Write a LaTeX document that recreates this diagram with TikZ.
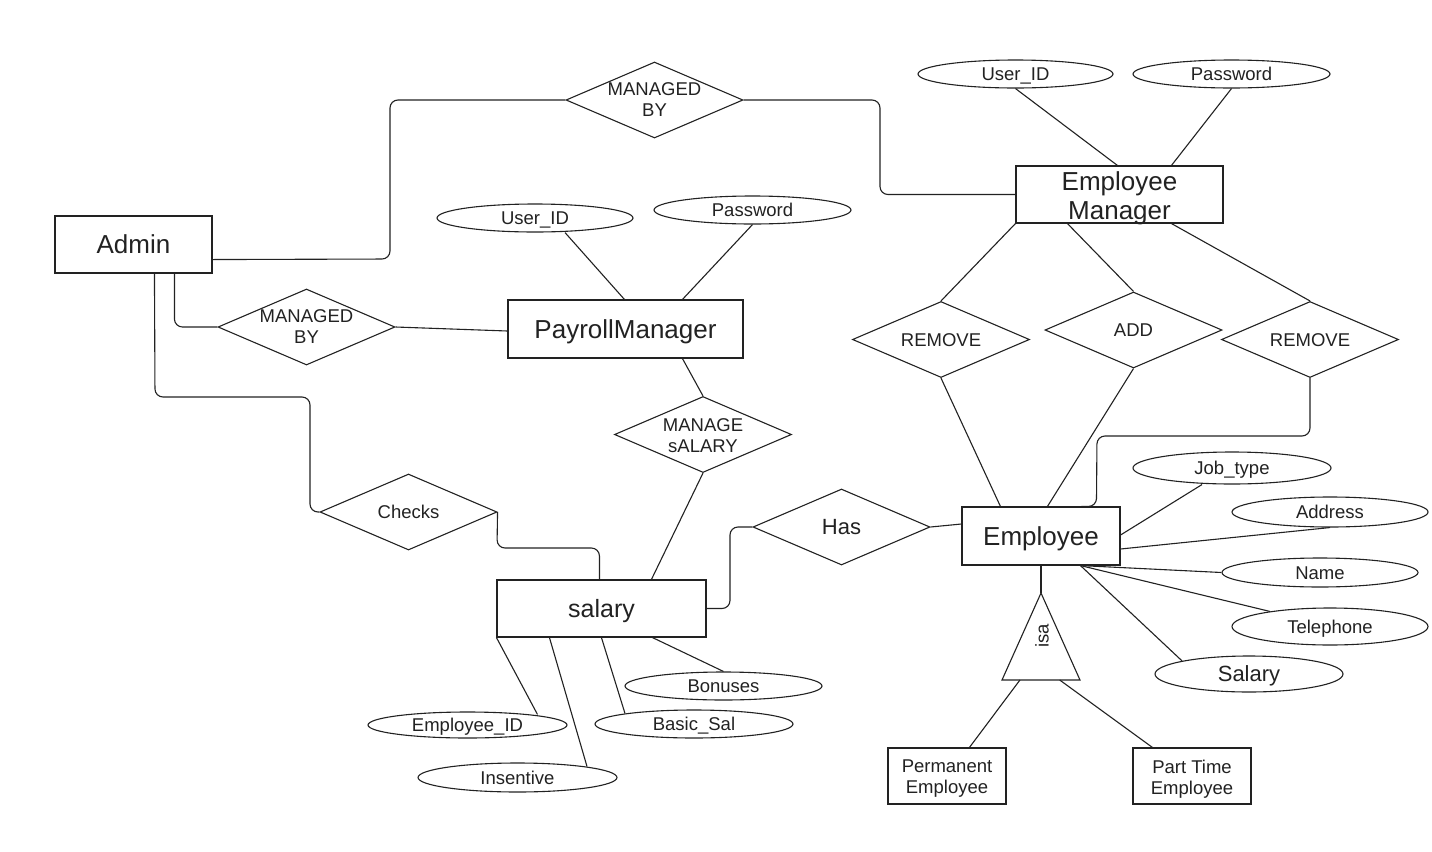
\documentclass[tikz,border=0pt]{standalone}
\usepackage{fontspec}
\setmainfont{Liberation Sans}
\usetikzlibrary{shapes.geometric,calc}
\definecolor{ink}{HTML}{222222}
\begin{document}
\begin{tikzpicture}[x=0.5pt,y=-0.5pt,line width=0.55pt,draw=ink,text=ink,
  ent/.style={draw=ink,rectangle,inner sep=0pt,align=center,font=\fontsize{13}{14.5}\selectfont,text height=9.3pt,text depth=0pt},
  box/.style={draw=ink,rectangle,inner sep=0pt},
  rel/.style={draw=ink,diamond,inner sep=0pt,minimum width=88.5pt,minimum height=38pt},
  attr/.style={draw=ink,ellipse,inner sep=0pt,minimum height=14pt,font=\fontsize{9.25}{10.5}\selectfont,text height=6.6pt,text depth=0pt},
  lbl/.style={font=\fontsize{9.25}{10.5}\selectfont,text height=6.6pt,text depth=0pt,text=ink},
  lbltwo/.style={font=\fontsize{9.25}{10.5}\selectfont,align=center,text=ink},
  bigtwo/.style={font=\fontsize{13}{14.5}\selectfont,align=center,text=ink},
  conn/.style={draw=ink,rounded corners=4pt}]
\useasboundingbox (0,0) rectangle (1432,852);
\fill[white] (0,0) rectangle (1432,852);

% entities
\node[ent,minimum width=78.5pt,minimum height=28.5pt] (admin) at (133.5,244.5) {Admin};
\node[box,minimum width=103.5pt,minimum height=28.5pt,label={[bigtwo,yshift=-2pt]center:{Employee\\Manager}}] (em) at (1119.5,194.5) {};
\node[ent,minimum width=117.5pt,minimum height=29pt] (pm) at (625.5,329) {PayrollManager};
\node[ent,minimum width=79pt,minimum height=29pt] (emp) at (1041,536) {Employee};
\node[ent,minimum width=104.5pt,minimum height=28.5pt,font=\fontsize{12.5}{14}\selectfont,text height=9pt] (salary) at (601.5,608.5) {salary};
\node[box,minimum width=59pt,minimum height=28pt,label={[lbltwo,yshift=-1.5pt]center:{Permanent\\Employee}}] (perm) at (947,776) {};
\node[box,minimum width=59pt,minimum height=28pt,label={[lbltwo,yshift=-1.5pt]center:{Part Time\\Employee}}] (pt) at (1192,776) {};

% relationships
\node[rel,label={[lbltwo]center:{MANAGED\\BY}}] (mb1) at (654.5,100) {};
\node[rel,label={[lbltwo]center:{MANAGED\\BY}}] (mb2) at (306.5,327) {};
\node[rel,label={[lbl]center:{REMOVE}}] (rem1) at (941,339.5) {};
\node[rel,label={[lbl]center:{ADD}}] (add) at (1133.5,330) {};
\node[rel,label={[lbl]center:{REMOVE}}] (rem2) at (1310,339.5) {};
\node[rel,label={[lbltwo,yshift=-0.5pt]center:{MANAGE\\sALARY}}] (manage) at (703,434.5) {};
\node[rel,label={[lbl]center:{Checks}}] (checks) at (408.5,512) {};
\node[rel,label={[lbl,font=\fontsize{11}{13}\selectfont,text height=7.9pt]center:{Has}}] (has) at (841.5,527) {};

% attributes
\node[attr,minimum width=97.5pt] (uid1) at (1015.5,74) {User\_ID};
\node[attr,minimum width=98.5pt] (pw1) at (1231.5,74) {Password};
\node[attr,minimum width=98pt] (uid2) at (535,218) {User\_ID};
\node[attr,minimum width=98.5pt] (pw2) at (752.5,210) {Password};
\node[attr,minimum width=99pt,minimum height=16pt] (job) at (1232,468) {Job\_type};
\node[attr,minimum width=98pt,minimum height=15pt] (addr) at (1330,512) {Address};
\node[attr,minimum width=98pt,minimum height=14.5pt] (name) at (1320,572.5) {Name};
\node[attr,minimum width=98pt,minimum height=18.5pt] (tel) at (1330,626.5) {Telephone};
\node[attr,minimum width=94pt,minimum height=18pt,font=\fontsize{11}{13}\selectfont,text height=7.9pt] (salE) at (1249,674) {Salary};
\node[attr,minimum width=98.5pt] (bon) at (723.5,686) {Bonuses};
\node[attr,minimum width=99pt] (bsal) at (694,724) {Basic\_Sal};
\node[attr,minimum width=99.5pt,minimum height=13pt] (eid) at (467.5,725) {Employee\_ID};
\node[attr,minimum width=99.5pt,minimum height=14.5pt] (ins) at (517.5,777.5) {Insentive};

% isa triangle
\coordinate (isaT) at (1041,593);
\coordinate (isaL) at (1002,680);
\coordinate (isaR) at (1080,680);
\draw[line join=miter] (isaT) -- (isaR) -- (isaL) -- cycle;
\node[lbl,rotate=90] (isa) at (1042,636) {isa};

% connectors
\draw[conn] ($(admin.south east)+(0,-14)$) -- (390,259) |- (mb1.west);
\draw[conn] (mb1.east) -- (880,100) |- (em.west);
\draw[conn] ($(admin.south west)+(120,0)$) |- (mb2.west);
\draw (mb2.east) -- ($(pm.west)+(0,2)$);
\draw[conn] ($(admin.south west)+(100,0)$) -- (155,397) -- (310,397) |- (checks.west);
\draw[conn] (checks.east) -- (497,548) -| ($(salary.north west)+(103,0)$);
\draw ($(pm.south west)+(175,0)$) -- (manage.north);
\draw (manage.south) -- ($(salary.north west)+(155,0)$);
\draw[conn] (salary.east) -- (730,608.5) |- (has.west);
\draw (has.east) -- ($(emp.west)+(0,-12)$);

\draw (uid1.south) -- ($(em.north west)+(102,0)$);
\draw (pw1.south) -- ($(em.north west)+(156,0)$);
\draw (em.south west) -- (rem1.north);
\draw ($(em.south west)+(52,0)$) -- (add.north);
\draw ($(em.south west)+(156,0)$) -- (rem2.north);
\draw (rem1.south) -- ($(emp.north west)+(39,0)$);
\draw (add.south) -- ($(emp.north west)+(86,0)$);
\draw[conn] (rem2.south) -- (1310,436) -- (1097,436) -- ($(emp.north west)+(135,0)$) -- ($(emp.north west)+(120,0)$);

\draw ($(uid2.south)+(30,0)$) -- ($(pm.north west)+(117,0)$);
\draw (pw2.south) -- ($(pm.north west)+(175,0)$);

\draw ($(emp.east)+(0,-1)$) -- ($(job.south)+(-30,0)$);
\draw ($(emp.east)+(0,13)$) -- (addr.south);
\draw ($(emp.south west)+(119,0)$) -- (name.west);
\draw ($(emp.south west)+(119,0)$) -- ($(tel.north)+(-60,4)$);
\draw ($(emp.south west)+(119,0)$) -- ($(salE.north)+(-67,5.4)$);

\draw (emp.south) -- (isaT);
\draw ($(isaL)!0.23!(isaR)$) -- ($(perm.north west)+(82,0)$);
\draw ($(isaL)!0.74!(isaR)$) -- ($(pt.north west)+(20,0)$);

\draw (salary.south west) -- ($(eid.north)+(70,3)$);
\draw ($(salary.south west)+(53,0)$) -- ($(ins.north)+(69.5,4)$);
\draw ($(salary.south west)+(105,0)$) -- ($(bsal.north)+(-69,4)$);
\draw ($(salary.south west)+(156,0)$) -- (bon.north);
\end{tikzpicture}
\end{document}
